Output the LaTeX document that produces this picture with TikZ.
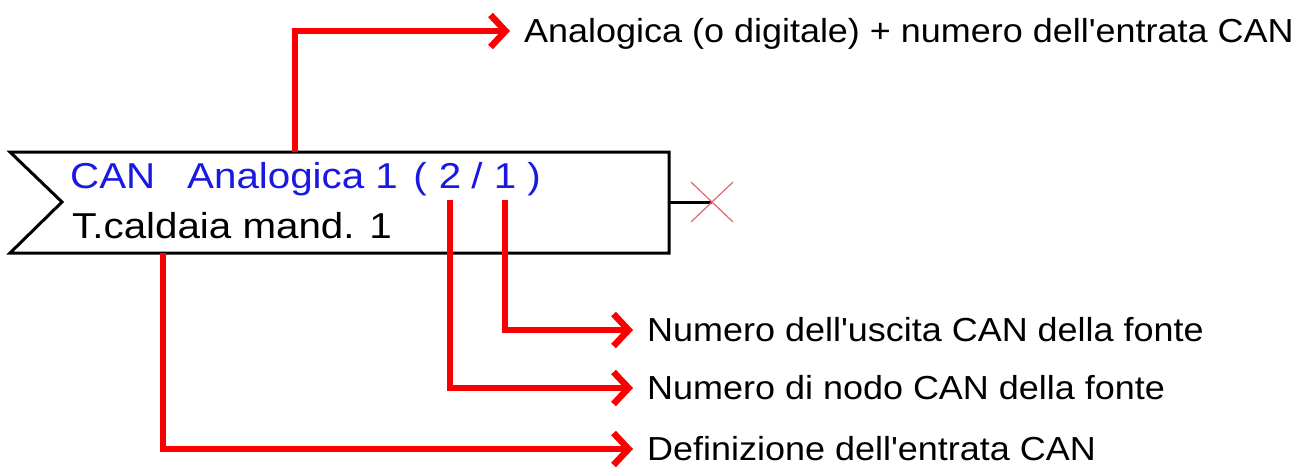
\documentclass[tikz,border=0pt]{standalone}
\usepackage{fontspec}
\setmainfont{Liberation Sans}
\newfontfamily\boxfont[FakeStretch=1.12]{Liberation Sans}
\newfontfamily\lblfont[FakeStretch=1.08]{Liberation Sans}
\usetikzlibrary{arrows.meta}
\definecolor{arrred}{RGB}{250,0,0}
\definecolor{canblue}{RGB}{25,25,225}
\definecolor{crossred}{RGB}{225,110,120}
\tikzset{
  redline/.style={draw=arrred,line width=6.5pt},
  redarrow/.style={redline,-{Straight Barb[length=15pt,width=32pt]}},
  lbl/.style={anchor=west,inner xsep=14pt,inner ysep=0pt,text height=23pt,text depth=0pt,font=\lblfont\fontsize{33.3}{40}\selectfont},
  boxtxt/.style={inner sep=0pt,anchor=base west,font=\boxfont\fontsize{36}{42}\selectfont},
  bluetxt/.style={boxtxt,text=canblue},
  boxline/.style={draw=black,line width=3pt},
}
\begin{document}
\begin{tikzpicture}[x=1pt,y=-1pt]
\useasboundingbox (0,0) rectangle (1306,475);
% input box
\draw[boxline,line join=miter] (10,152) -- (669,152) -- (669,253) -- (10,253) -- (62,202) -- cycle;
\coordinate (stub) at (669,202);
\coordinate (xc) at (712,202);
\draw[boxline] (stub) -- (xc);
\draw[crossred,line width=1.3pt] ([shift={(-21,-20)}]xc) -- ([shift={(21,20)}]xc);
\draw[crossred,line width=1.3pt] ([shift={(-21,20)}]xc) -- ([shift={(21,-20)}]xc);
% texts in box
\node[bluetxt] (can) at (70,188) {CAN};
\node[bluetxt] (analog) at (187,188) {Analogica 1};
\node[bluetxt,anchor=base] (lp) at (420,188) {(};
\node[bluetxt,anchor=base] (two) at (450,188) {2};
\node[bluetxt,anchor=base] (slash) at (477,188) {/};
\node[bluetxt,anchor=base] (one) at (505,188) {1};
\node[bluetxt,anchor=base] (rp) at (534,188) {)};
\node[boxtxt] (name) at (72,238) {T.caldaia mand. 1};
% labels
\coordinate (topstart) at (295,152);
\coordinate (defstart) at (163,253);
\node[lbl] (ltop) at (510,31) {Analogica (o digitale) + numero dell\char39 entrata CAN};
\node[lbl] (lout) at (633,330) {Numero dell\char39 uscita CAN della fonte};
\node[lbl] (lnode) at (633,388) {Numero di nodo CAN della fonte};
\node[lbl] (ldef) at (633,449) {Definizione dell\char39 entrata CAN};
% connectors
\draw[redarrow] (topstart) |- (ltop.west);
\draw[redarrow] ([yshift=-12pt]one.south) |- (lout.west);
\draw[redarrow] ([yshift=-12pt]two.south) |- (lnode.west);
\draw[redarrow] (defstart) |- (ldef.west);
\end{tikzpicture}
\end{document}
